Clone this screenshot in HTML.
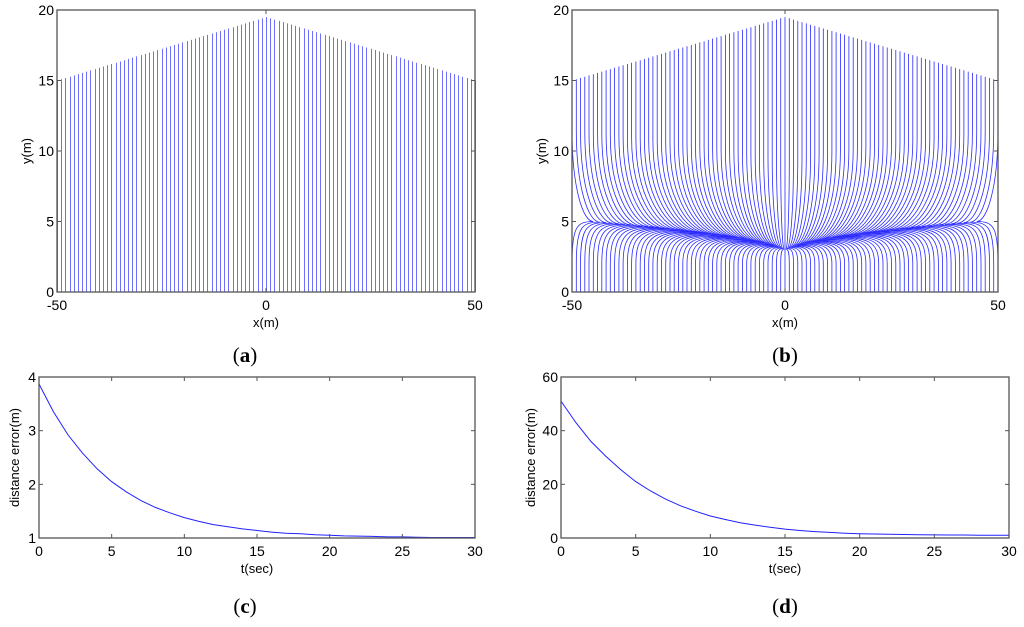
<!DOCTYPE html>
<html><head><meta charset="utf-8"><style>
body{margin:0;background:#fff;}
svg{display:block;font-family:"Liberation Sans",sans-serif;}
.cap{font-family:"Liberation Serif",serif;font-size:21px;}
</style></head><body>
<svg id="fig" width="1024" height="627" viewBox="0 0 1024 627"></svg>
<script>
// ---- data ----
const trajXStart = -50, trajXEnd = 50, trajXStep = 1;
const peakY = [19.5];
const edgeY = [15];
const lowerStartY = [2];
const tC = [0,1,2,3,4,5,6,7,8,9,10,11,12,13,14,15,16,17,18,19,20,21,22,23,24,25,26,27,28,29,30];
const errC = [3.87,3.35,2.92,2.58,2.29,2.05,1.86,1.70,1.57,1.47,1.38,1.31,1.25,1.21,1.17,1.14,1.11,1.09,1.08,1.06,1.05,1.04,1.035,1.03,1.02,1.02,1.015,1.01,1.01,1.01,1.01];
const errD = [51,43,36,30.5,25.5,21,17.5,14.5,12,10,8.2,6.9,5.7,4.8,4.0,3.3,2.8,2.4,2.1,1.8,1.6,1.5,1.4,1.3,1.2,1.15,1.1,1.1,1.05,1.05,1.0];
const xTicksAB = [-50,0,50];
const yTicksAB = [0,5,10,15,20];
const tTicks = [0,5,10,15,20,25,30];
const yTicksC = [1,2,3,4];
const yTicksD = [0,20,40,60];

const NS="http://www.w3.org/2000/svg";
const svg=document.getElementById('fig');
function mk(tag,attrs,parent){const e=document.createElementNS(NS,tag);for(const k in attrs)e.setAttribute(k,attrs[k]);(parent||svg).appendChild(e);return e;}
function axis(x0,x1,y0,y1,L,R,B,T){return{sx:v=>L+(v-x0)/(x1-x0)*(R-L),sy:v=>B-(v-y0)/(y1-y0)*(B-T),L,R,B,T};}

function frame(ax,xt,yt,xl,yl,name){
  const g=mk('g',{});
  
  
  mk('rect',{x:ax.L,y:ax.T,width:ax.R-ax.L,height:ax.B-ax.T,fill:'none',stroke:'#555','stroke-width':1.3},g);
  xt.forEach(v=>{const x=ax.sx(v);
    mk('line',{x1:x,x2:x,y1:ax.B,y2:ax.B-4,stroke:'#555'},g);
    mk('line',{x1:x,x2:x,y1:ax.T,y2:ax.T+4,stroke:'#555'},g);
    const t=mk('text',{x:x,y:ax.B+18,'text-anchor':'middle','font-size':14},g);t.textContent=v;
    
    });
  yt.forEach(v=>{const y=ax.sy(v);
    mk('line',{x1:ax.L,x2:ax.L+4,y1:y,y2:y,stroke:'#555'},g);
    mk('line',{x1:ax.R,x2:ax.R-4,y1:y,y2:y,stroke:'#555'},g);
    const t=mk('text',{x:ax.L-3,y:y+5,'text-anchor':'end','font-size':14},g);t.textContent=v;
    
    });
  const xlab=mk('text',{x:(ax.L+ax.R)/2,y:ax.B+35,'text-anchor':'middle','font-size':13},g);xlab.textContent=xl;
  
  
  const yx=ax.L-(yt[yt.length-1]>=10?26:20), yy=(ax.T+ax.B)/2;
  const ylab=mk('text',{x:yx,y:yy,'text-anchor':'middle','font-size':13,transform:`rotate(-90 ${yx} ${yy})`},g);ylab.textContent=yl;
  
  
}
function caption(x,y,l,name){const t=mk('text',{x:x,y:y,'text-anchor':'middle',class:'cap'});
  t.innerHTML='(<tspan font-weight="bold">'+l+'</tspan>)';
  
  }

function topY(x){return peakY[0]-(peakY[0]-edgeY[0])*Math.abs(x)/50;}

// panel a
const A=axis(-50,50,0,20,57,475,292,10);
const ga=mk('g',{});


for(let x=trajXStart;x<=trajXEnd;x+=trajXStep){
  const px=Math.round(A.sx(x))+0.5;
  const l=mk('line',{x1:px,x2:px,y1:A.sy(0),y2:A.sy(topY(x)),stroke:'#6e6eff','stroke-width':1},ga);
  
  
}
frame(A,xTicksAB,yTicksAB,'x(m)','y(m)','panel-a');
caption(245,362,'a','caption-a');

// panel b
const B=axis(-50,50,0,20,572,998,292,10);
const gb=mk('g',{});


for(let x=trajXStart;x<=trajXEnd;x+=trajXStep){
  const a=Math.abs(x)/50;
  const xm=x*(0.25+0.65*a), ym=3+2*a, yb=ym+6.5;
  const P=(u,v)=>B.sx(u).toFixed(1)+' '+B.sy(v).toFixed(1);
  const d='M'+P(x,topY(x))+' L'+P(x,yb)+' C'+P(x,ym+2.5)+' '+P(xm+(x-xm)*0.5,ym+0.3*(1-a))+' '+P(xm,ym)+
    ' C'+P(xm+(x-xm)*0.75,ym)+' '+P(x,ym-0.3)+' '+P(x,lowerStartY[0])+' L'+P(x,0);
  const p=mk('path',{d:d,fill:'none',stroke:'#2a2aff','stroke-width':0.8},gb);
  
  
}
frame(B,xTicksAB,yTicksAB,'x(m)','y(m)','panel-b');
caption(785,362,'b','caption-b');

// panel c
const C=axis(0,30,1,4,39,475,538,377);
const pc=mk('path',{d:tC.map((t,i)=>(i?'L':'M')+C.sx(t).toFixed(1)+' '+C.sy(errC[i]).toFixed(1)).join(' '),fill:'none',stroke:'#2020ff','stroke-width':1});


frame(C,tTicks,yTicksC,'t(sec)','distance error(m)','panel-c');
caption(245,613,'c','caption-c');

// panel d
const D=axis(0,30,0,60,561,1009,538,377);
const pd=mk('path',{d:tC.map((t,i)=>(i?'L':'M')+D.sx(t).toFixed(1)+' '+D.sy(errD[i]).toFixed(1)).join(' '),fill:'none',stroke:'#2020ff','stroke-width':1});


frame(D,tTicks,yTicksD,'t(sec)','distance error(m)','panel-d');
caption(785,613,'d','caption-d');
</script>
</body></html>
